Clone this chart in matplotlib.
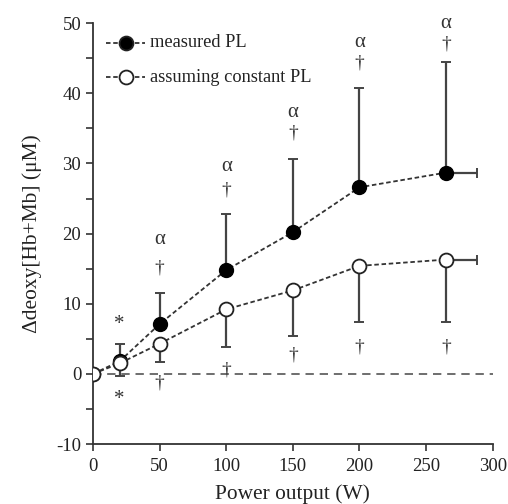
import matplotlib
matplotlib.use('Agg')
import matplotlib.pyplot as plt
from matplotlib.ticker import MultipleLocator

plt.rcParams['font.family'] = ['Liberation Serif', 'DejaVu Serif']
plt.rcParams['axes.unicode_minus'] = False

power = [0, 20, 50, 100, 150, 200, 265]
measured = [0, 1.8, 7.1, 14.8, 20.2, 26.6, 28.7]
measured_sd = [0, 2.5, 4.4, 8.0, 10.4, 14.1, 15.7]
constant = [0, 1.5, 4.3, 9.2, 11.9, 15.4, 16.3]
constant_sd = [0, 1.8, 2.6, 5.3, 6.5, 8.0, 8.9]
power_sd_last = 23

# annotation marks: (x, y, text)
marks_above = [(20, 7.1, '*'), (50, 15.1, '†'), (50, 19.1, 'α'),
               (100, 26.2, '†'), (100, 29.5, 'α'),
               (150, 34.3, '†'), (150, 37.3, 'α'),
               (200, 44.3, '†'), (200, 47.3, 'α'),
               (265, 47.1, '†'), (265, 49.9, 'α')]
marks_below = [(20, -3.6, '*'), (50, -1.3, '†'), (100, 0.6, '†'),
               (150, 2.7, '†'), (200, 3.8, '†'), (265, 3.8, '†')]

ec = '#444444'
fig = plt.figure(figsize=(5.08, 5.04), dpi=100)
ax = fig.add_axes([0.183, 0.119, 0.787, 0.835])

ax.plot([0, 300], [0, 0], ls=(0, (5, 3.5)), color='#555555', lw=1.2, zorder=1)

ax.errorbar(power, measured, yerr=[[0] * 7, measured_sd], fmt='none',
            ecolor=ec, elinewidth=1.6, capsize=3.5, capthick=1.4, zorder=2)
ax.errorbar(power, constant, yerr=[constant_sd, [0] * 7], fmt='none',
            ecolor=ec, elinewidth=1.6, capsize=3.5, capthick=1.4, zorder=2)
ax.errorbar([power[-1], power[-1]], [measured[-1], constant[-1]],
            xerr=[[0, 0], [power_sd_last, power_sd_last]], fmt='none',
            ecolor=ec, elinewidth=1.6, capsize=3.5, capthick=1.4, zorder=2)

ax.plot(power, measured, ls=(0, (2.5, 1.5)), color='#333333', lw=1.3,
        marker='o', ms=10, mfc='black', mec='black', zorder=3)
ax.plot(power, constant, ls=(0, (2.5, 1.5)), color='#333333', lw=1.3,
        marker='o', ms=10, mfc='white', mec='#222222', mew=1.3, zorder=3)

for x, y, t in marks_above + marks_below:
    fs = {'α': 15, '†': 14, '*': 15}[t]
    ax.text(x, y, t, ha='center', va='center', fontsize=fs, color='#333333')

# legend drawn by hand
for y, fc, label in [(47.2, 'black', 'measured PL'),
                     (42.3, 'white', 'assuming constant PL')]:
    ax.plot([10, 39], [y, y], ls=(0, (2.5, 1.5)), color='#333333', lw=1.3)
    ax.plot([24.5], [y], marker='o', ms=10, mfc=fc, mec='#222222', mew=1.3)
    ax.text(43, y, label, va='center', ha='left', fontsize=13.2, color='#222222')

ax.set_xlim(0, 300)
ax.set_ylim(-10, 50)
ax.xaxis.set_major_locator(MultipleLocator(50))
ax.yaxis.set_major_locator(MultipleLocator(10))
ax.yaxis.set_minor_locator(MultipleLocator(5))
ax.spines['top'].set_visible(False)
ax.spines['right'].set_visible(False)
for s in ['left', 'bottom']:
    ax.spines[s].set_color('#333333')
    ax.spines[s].set_linewidth(1.3)
ax.tick_params(which='both', direction='out', length=5, width=1.2,
               colors='#333333', labelsize=13.5, labelcolor='#222222')
ax.tick_params(axis='x', pad=5)
ax.set_xlabel('Power output (W)', fontsize=15.4, color='#222222', labelpad=7)
ax.set_ylabel('Δdeoxy[Hb+Mb] (μM)', fontsize=15.4, color='#222222', labelpad=10)
for sp in ax.spines.values():
    sp.set_clip_on(False)

fig.savefig('out.png', dpi=100)
